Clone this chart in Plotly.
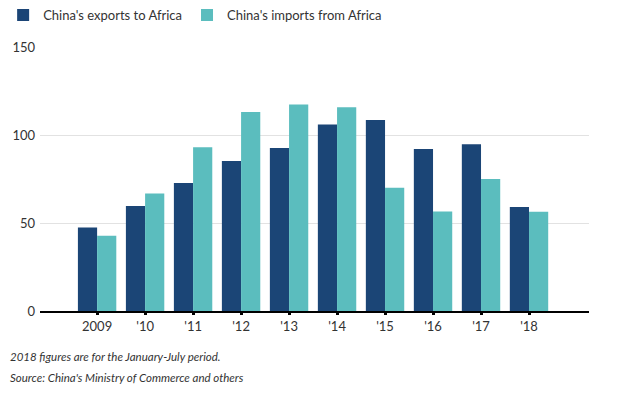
import plotly.graph_objects as go

years = ["2009", "'10", "'11", "'12", "'13", "'14", "'15", "'16", "'17", "'18"]
exports = [47.5, 59.7, 72.7, 85.2, 92.6, 106.0, 108.5, 92.0, 94.7, 59.1]
imports = [42.8, 66.7, 93.0, 113.0, 117.4, 115.7, 70.0, 56.6, 75.0, 56.4]
y_ticks = [0, 50, 100, 150]

FONT = "Lato, 'Noto Sans', sans-serif"
fig = go.Figure()
fig.add_trace(go.Bar(x=list(range(len(years))), y=exports, name="China's exports to Africa",
                     marker=dict(color="#1b4576", line=dict(width=0))))
fig.add_trace(go.Bar(x=list(range(len(years))), y=imports, name="China's imports from Africa",
                     marker=dict(color="#5bbdbe", line=dict(width=0))))

fig.update_layout(
    width=627, height=394,
    margin=dict(l=40, r=38, t=47, b=83, autoexpand=False),
    paper_bgcolor="white", plot_bgcolor="white",
    barmode="group", bargap=0.2, bargroupgap=0,
    font=dict(family=FONT, size=13, color="#333333"),
    showlegend=True,
    legend=dict(orientation="h", x=0.005, xref="container", xanchor="left",
                y=1.0, yref="container", yanchor="top",
                font=dict(size=13, color="#333333"), itemwidth=30,
                traceorder="normal", bgcolor="rgba(0,0,0,0)"),
    xaxis=dict(tickmode="array", tickvals=list(range(len(years))), ticktext=years,
               range=[-1.19, 10.25], showgrid=False, zeroline=False,
               showline=True, linecolor="#000000", linewidth=2,
               ticks="outside", ticklen=2, tickwidth=3, tickcolor="#000000",
               tickfont=dict(size=13, color="#333333")),
    yaxis=dict(range=[0, 150], tickvals=y_ticks, showgrid=True, gridcolor="#e2e2e2",
               gridwidth=1, zeroline=False, showline=False, ticks="",
               tickfont=dict(size=13, color="#333333"), ticklabelstandoff=4),
)
fig.add_annotation(text="<i>2018 figures are for the January-July period.</i>",
                   xref="paper", yref="paper", x=-0.058, y=-0.174, xanchor="left", yanchor="middle",
                   showarrow=False, font=dict(size=11.5, color="#333333"))
fig.add_annotation(text="<i>Source: China's Ministry of Commerce and others</i>",
                   xref="paper", yref="paper", x=-0.058, y=-0.25, xanchor="left", yanchor="middle",
                   showarrow=False, font=dict(size=11.5, color="#333333"))
fig.write_html("out.html", config={"displayModeBar": False},
               post_script="document.body.style.margin='0';")
